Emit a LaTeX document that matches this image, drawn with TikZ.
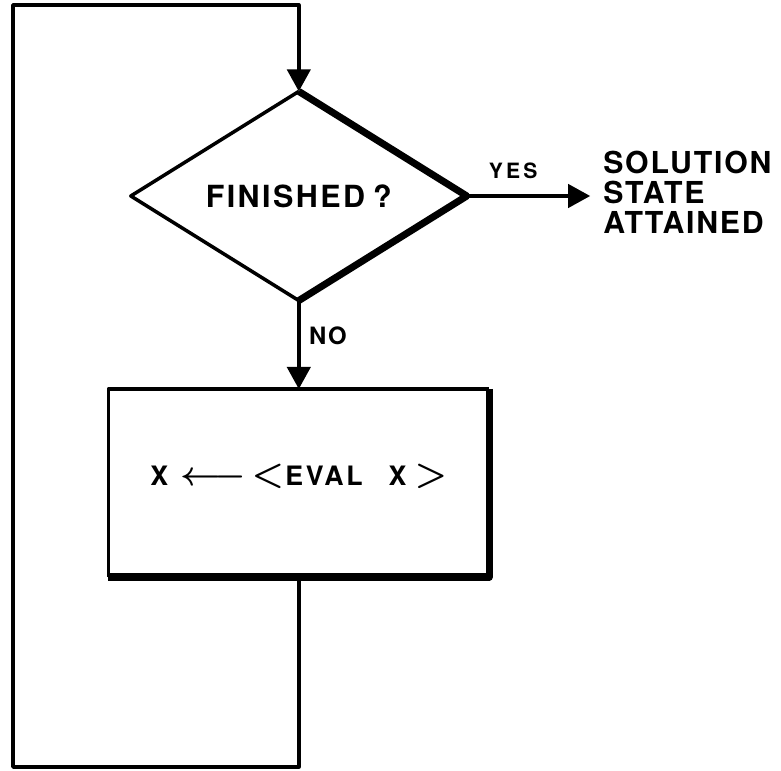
\documentclass[tikz,border=0pt]{standalone}
\usepackage{fontspec}
\setmainfont{TeX Gyre Heros}[LetterSpace=6]
\usetikzlibrary{arrows.meta}
\usetikzlibrary{shapes.geometric}
\tikzset{
  thinline/.style={line width=2.5pt, line join=round},
  thickline/.style={line width=5pt, line join=round},
  flowarrow/.style={thinline, -{Triangle[length=0.55cm,width=0.58cm]}},
}
\newcommand{\evalarrow}{\scalebox{1.45}[1.4]{\boldmath$\longleftarrow$}}
\newcommand{\ltsign}{\scalebox{1.5}{\boldmath$<$}}
\newcommand{\gtsign}{\scalebox{1.5}{\boldmath$>$}}

\begin{document}
\begin{tikzpicture}
\useasboundingbox (0,0) rectangle (19.525,19.25);
\node[diamond, minimum width=8.4cm, minimum height=4.8cm, inner sep=0, outer sep=0, font=\bfseries\fontsize{21.7}{26}\selectfont\addfontfeatures{LetterSpace=8}] (fin) at (7.47,14.35) {FINISHED\hspace{0.2cm}?};
\node[rectangle, minimum width=9.525cm, minimum height=4.7cm, inner sep=0, outer sep=0, text height=0.5cm, text depth=0.4cm, font=\bfseries\fontsize{19}{22}\selectfont\addfontfeatures{LetterSpace=10}] (eval) at (7.47,7.175) {X\hspace{0.3cm}\evalarrow\hspace{0.15cm}\ltsign\hspace{0.03cm}EVAL\hspace{0.65cm}X\hspace{0.2cm}\gtsign};
\node[anchor=west, align=left, inner sep=0, font=\bfseries\fontsize{21.5}{21.3}\selectfont] (sol) at (15.075,14.45) {SOLUTION\\STATE\\ATTAINED};
\coordinate (top) at (7.47,19.125);
\coordinate (topleft) at (0.325,19.125);
\coordinate (botleft) at (0.325,0.075);
\coordinate (bot) at (7.47,0.075);

\draw[thinline] (fin.north) -- (fin.west) -- (fin.south);
\draw[thickline] (fin.north) -- (fin.east) -- (fin.south);
\draw[thinline] (eval.south west) -- (eval.north west) -- (eval.north east);
\draw[thickline] (eval.north east) -- (eval.south east) -- (eval.south west);
\draw[flowarrow] (eval.south) -- (bot) -- (botleft) -- (topleft) -- (top) -- (fin.north);
\draw[flowarrow] (fin.south) -- (eval.north) node[pos=0.4, right=0.1cm, font=\bfseries\fontsize{17}{20}\selectfont] (no) {NO};
\draw[flowarrow, shorten >=0.32cm] (fin.east) -- (fin.east -| sol.west) node[pos=0.34, above=0.26cm, font=\bfseries\fontsize{15}{17}\selectfont\addfontfeatures{LetterSpace=15}] (yes) {YES};

\end{tikzpicture}
\end{document}
